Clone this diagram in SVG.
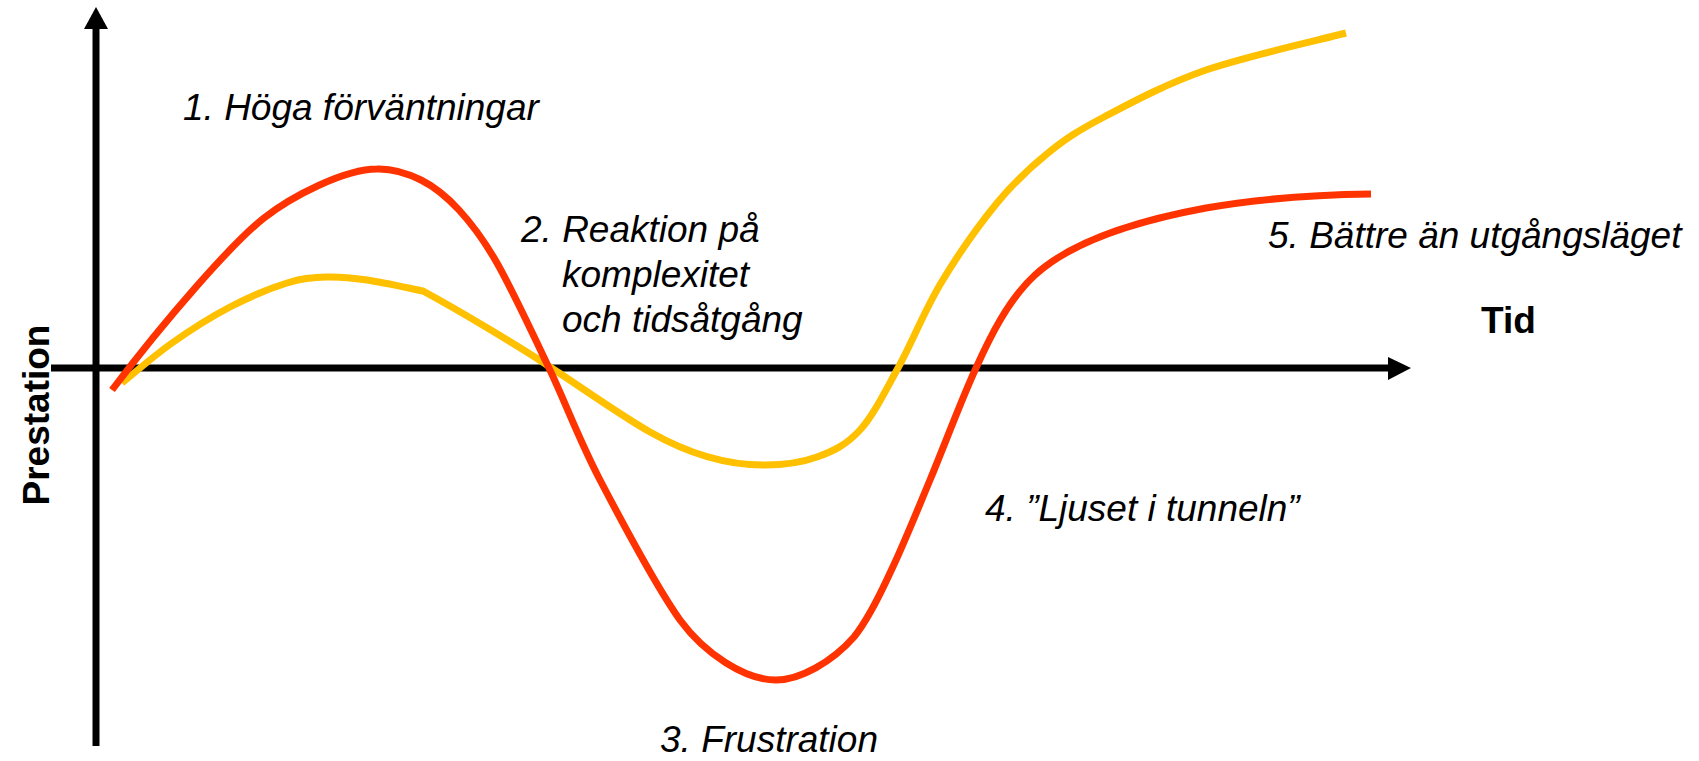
<svg xmlns="http://www.w3.org/2000/svg" width="1699" height="761" viewBox="0 0 1699 761">
  <style>
    .lbl { font-family: "Liberation Sans", Arial, sans-serif; font-style: italic; font-size: 37px; fill: #000; }
    .ax { font-family: "Liberation Sans", Arial, sans-serif; font-weight: bold; font-size: 37px; fill: #000; }
    .axis { stroke: #000; stroke-width: 7; fill: none; }
    .head { fill: #000; }
    .curve { fill: none; stroke-width: 7; stroke-linejoin: round; stroke-linecap: butt; }
  </style>
  <rect width="1699" height="761" fill="#fff"/>
  <g id="connectors">
    <g id="y-axis">
      <line class="axis" x1="96" y1="746" x2="96" y2="28"/>
      <polygon class="head" points="84,29 108,29 96,7"/>
    </g>
    <g id="x-axis">
      <line class="axis" x1="51" y1="368" x2="1390" y2="368"/>
      <polygon class="head" points="1388,357 1388,380 1411,368"/>
    </g>
  </g>
  <g id="curve-yellow">
    <path class="curve" stroke="#FFC000" d="M122,383 C130.3,376.3 154,355.7 172,343 C190,330.3 210.8,317 230,307 C249.2,297 270.8,288 287,283 C303.2,278 313.7,277.5 327,277 C340.3,276.5 351,277.7 367,280 C383,282.3 413.7,289.2 423,291 C460,311 520,347 550,367 C578,385 620,415 650,432 C680,449 720,465 763,465 C782.5,465.2 800.8,462.8 817,457 C833.2,451.2 846.5,444.8 860,430 C873.5,415.2 884.5,392.5 898,368 C911.5,343.5 924.5,310.5 941,283 C957.5,255.5 979.2,224.7 997,203 C1014.8,181.3 1030.2,167.3 1048,153 C1065.8,138.7 1077.7,130.8 1104,117 C1130.3,103.2 1165.7,84 1206,70 C1246.3,56 1322.7,39.2 1346,33"/>
  </g>
  <g id="curve-red">
    <path class="curve" stroke="#FF3300" d="M112,390 C165,320 232,243 264,218 C292,196 345,169 377,169 C393,168.5 407.3,173.2 421,180 C434.7,186.8 446.3,196.2 459,210 C471.7,223.8 482,236.7 497,263 C512,289.3 531.8,331.8 549,368 C566.2,404.2 578.2,438 600,480 C622,522 660,592 680,620 C705,654 745,680 776,680 C800,680 832,662 854,637 C866,622 879,597 890,573 C902.7,546.8 915.7,514.2 930,480 C944.3,445.8 961.5,399.2 976,368 C990,337 1008,300 1035,275 C1070,243 1130,222 1206,208 C1240,202 1300,195 1371,194"/>
  </g>
  <g id="label-prestation">
    <text class="ax" text-anchor="middle" transform="translate(49,415) rotate(-90)">Prestation</text>
  </g>
  <g id="label-tid">
    <text class="ax" x="1481" y="333">Tid</text>
  </g>
  <g id="label-1">
    <text class="lbl" x="183" y="120">1. Höga förväntningar</text>
  </g>
  <g id="label-2">
    <text class="lbl" y="242"><tspan x="521">2. Reaktion på</tspan><tspan x="562" y="287">komplexitet</tspan><tspan x="562" y="332">och tidsåtgång</tspan></text>
  </g>
  <g id="label-3">
    <text class="lbl" x="660" y="752">3. Frustration</text>
  </g>
  <g id="label-4">
    <text class="lbl" x="985" y="521">4. ”Ljuset i tunneln”</text>
  </g>
  <g id="label-5">
    <text class="lbl" x="1268" y="248">5. Bättre än utgångsläget</text>
  </g>
</svg>
